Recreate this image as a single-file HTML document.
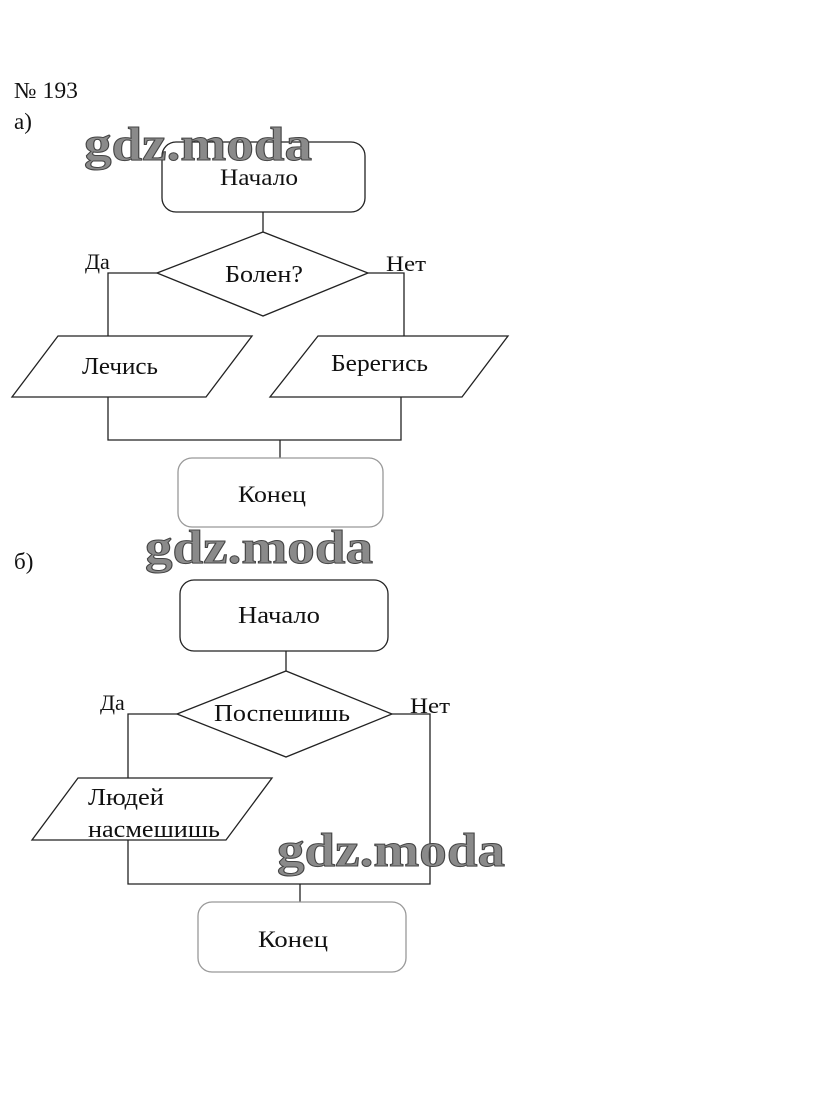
<!DOCTYPE html>
<html><head><meta charset="utf-8"><style>
html,body{margin:0;padding:0;background:#fff;width:815px;height:1107px;overflow:hidden}
svg{display:block}
text{font-family:"Liberation Serif","DejaVu Serif",serif;fill:#111}
.wm{font-family:"Liberation Serif",serif;font-weight:bold;font-size:48px;fill:#8a8a8a;stroke:#444;stroke-width:1}
</style></head><body>
<svg width="815" height="1107" viewBox="0 0 815 1107" xmlns="http://www.w3.org/2000/svg">
<g fill="none" stroke="#222" stroke-width="1.3">
<rect x="162" y="142" width="203" height="70" rx="14"/>
<line x1="263" y1="212" x2="263" y2="232"/>
<polygon points="157,273 263,232 368,273 263,316"/>
<polyline points="157,273 108,273 108,336"/>
<polyline points="368,273 404,273 404,336"/>
<polygon points="58,336 252,336 206,397 12,397"/>
<polygon points="318,336 508,336 462,397 270,397"/>
<polyline points="108,397 108,440 401,440 401,397"/>
<line x1="280" y1="440" x2="280" y2="458"/>
<rect x="178" y="458" width="205" height="69" rx="14" stroke="#999"/>
<rect x="180" y="580" width="208" height="71" rx="14"/>
<line x1="286" y1="651" x2="286" y2="671"/>
<polygon points="177,714 286,671 392,714 286,757"/>
<polyline points="177,714 128,714 128,778"/>
<polyline points="128,840 128,884 430,884 430,714 392,714"/>
<polygon points="78,778 272,778 226,840 32,840"/>
<line x1="300" y1="884" x2="300" y2="902"/>
<rect x="198" y="902" width="208" height="70" rx="14" stroke="#999"/>
</g>
<g>
<text x="14" y="98" font-size="23" fill="#555" textLength="64" lengthAdjust="spacingAndGlyphs">№ 193</text>
<text x="14" y="129" font-size="23" fill="#555">а)</text>
<text x="220" y="185" font-size="23" fill="#444" textLength="78" lengthAdjust="spacingAndGlyphs">Начало</text>
<text x="85" y="269" font-size="22">Да</text>
<text x="386" y="271" font-size="22" textLength="40" lengthAdjust="spacingAndGlyphs">Нет</text>
<text x="225" y="282" font-size="24" textLength="78" lengthAdjust="spacingAndGlyphs">Болен?</text>
<text x="82" y="374" font-size="24" textLength="76" lengthAdjust="spacingAndGlyphs">Лечись</text>
<text x="331" y="371" font-size="24" textLength="97" lengthAdjust="spacingAndGlyphs">Берегись</text>
<text x="238" y="502" font-size="23" fill="#aaa" textLength="68" lengthAdjust="spacingAndGlyphs">Конец</text>
<text x="14" y="569" font-size="23" fill="#444">б)</text>
<text x="238" y="623" font-size="24" textLength="82" lengthAdjust="spacingAndGlyphs">Начало</text>
<text x="100" y="710" font-size="22">Да</text>
<text x="410" y="713" font-size="22" textLength="40" lengthAdjust="spacingAndGlyphs">Нет</text>
<text x="214" y="721" font-size="24" textLength="136" lengthAdjust="spacingAndGlyphs">Поспешишь</text>
<text x="88" y="805" font-size="24" textLength="76" lengthAdjust="spacingAndGlyphs">Людей</text>
<text x="88" y="837" font-size="24" textLength="132" lengthAdjust="spacingAndGlyphs">насмешишь</text>
<text x="258" y="947" font-size="23" fill="#777" textLength="70" lengthAdjust="spacingAndGlyphs">Конец</text>
</g>
<text class="wm" x="84" y="160" textLength="228" lengthAdjust="spacingAndGlyphs">gdz.moda</text>
<text class="wm" x="145" y="563" textLength="228" lengthAdjust="spacingAndGlyphs">gdz.moda</text>
<text class="wm" x="277" y="866" textLength="228" lengthAdjust="spacingAndGlyphs">gdz.moda</text>
</svg>
</body></html>
